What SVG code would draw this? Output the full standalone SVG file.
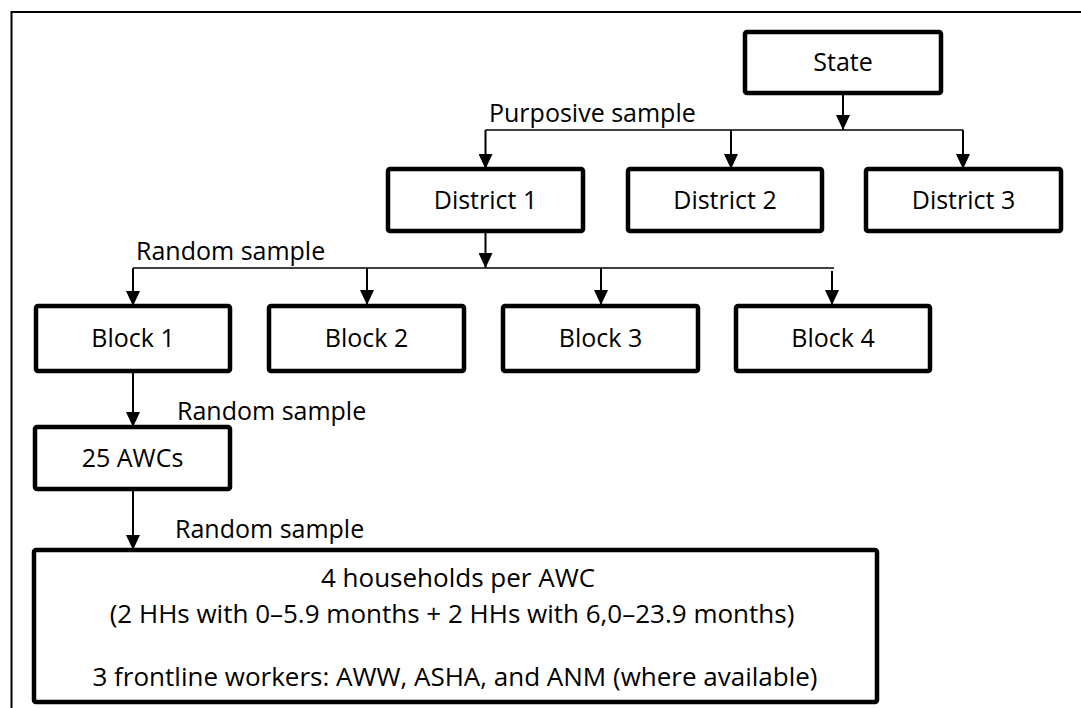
<svg xmlns="http://www.w3.org/2000/svg" width="1081" height="708" viewBox="0 0 1081 708">
<style>
  .box{fill:#fff;stroke:#000;stroke-width:4.5}
  .t{font-family:"Open Sans","Noto Sans",sans-serif;font-size:25px;fill:#000}
  .b{font-size:26px}
  .c{text-anchor:middle}
  .ln{fill:none;stroke:#000;stroke-width:2}
  .hl{fill:none;stroke:#000;stroke-width:1.5}
  .frame{fill:none;stroke:#000;stroke-width:2}
</style>
<defs>
  <marker id="ah" viewBox="0 0 15 14" refX="15" refY="7" markerWidth="15" markerHeight="14" markerUnits="userSpaceOnUse" orient="auto">
    <path d="M0,0 L15,7 L0,14 Z" fill="#000"/>
  </marker>
</defs>
<rect width="1081" height="708" fill="#fff"/>
<path class="frame" d="M11.5,708 V12 H1081"/>

<g id="connectors">
  <path class="ln" d="M843,93 V130" marker-end="url(#ah)"/>
  <path class="hl" d="M485.5,130 H963"/>
  <path class="ln" d="M485.5,130 V169" marker-end="url(#ah)"/>
  <path class="ln" d="M731,130 V169" marker-end="url(#ah)"/>
  <path class="ln" d="M963,130 V169" marker-end="url(#ah)"/>
  <path class="ln" d="M485.5,231 V268" marker-end="url(#ah)"/>
  <path class="hl" d="M133,268 H834"/>
  <path class="ln" d="M133,268 V306" marker-end="url(#ah)"/>
  <path class="ln" d="M367,268 V305" marker-end="url(#ah)"/>
  <path class="ln" d="M601,268 V305" marker-end="url(#ah)"/>
  <path class="ln" d="M832,271 V305" marker-end="url(#ah)"/>
  <path class="ln" d="M133,372 V427" marker-end="url(#ah)"/>
  <path class="ln" d="M133,489 V550" marker-end="url(#ah)"/>
</g>

<g id="labels">
  <text class="t" x="489" y="122">Purposive sample</text>
  <text class="t" x="136" y="260">Random sample</text>
  <text class="t" x="177" y="420">Random sample</text>
  <text class="t" x="175" y="538">Random sample</text>
</g>

<g id="state"><rect class="box" x="745" y="32" width="196" height="61" rx="2"/><text class="t c" x="843" y="71">State</text></g>
<g id="district1"><rect class="box" x="388" y="169" width="195" height="62" rx="2"/><text class="t c" x="485.5" y="209">District 1</text></g>
<g id="district2"><rect class="box" x="628" y="169" width="194" height="62" rx="2"/><text class="t c" x="725" y="209">District 2</text></g>
<g id="district3"><rect class="box" x="866" y="169" width="195" height="62" rx="2"/><text class="t c" x="963.5" y="209">District 3</text></g>
<g id="block1"><rect class="box" x="36" y="306" width="194" height="65" rx="2"/><text class="t c" x="133" y="347">Block 1</text></g>
<g id="block2"><rect class="box" x="269" y="306" width="195" height="65" rx="2"/><text class="t c" x="366.5" y="347">Block 2</text></g>
<g id="block3"><rect class="box" x="503" y="306" width="195" height="65" rx="2"/><text class="t c" x="600.5" y="347">Block 3</text></g>
<g id="block4"><rect class="box" x="736" y="306" width="194" height="65" rx="2"/><text class="t c" x="833" y="347">Block 4</text></g>
<g id="awcs"><rect class="box" x="35" y="427" width="195" height="62" rx="2"/><text class="t c" x="132.5" y="467">25 AWCs</text></g>
<g id="households">
  <rect class="box" x="34" y="550" width="843" height="152" rx="2"/>
  <text class="t b c" x="458" y="587">4 households per AWC</text>
  <text class="t b c" x="452" y="623">(2 HHs with 0–5.9 months + 2 HHs with 6,0–23.9 months)</text>
  <text class="t b c" x="455" y="686">3 frontline workers: AWW, ASHA, and ANM (where available)</text>
</g>
</svg>
